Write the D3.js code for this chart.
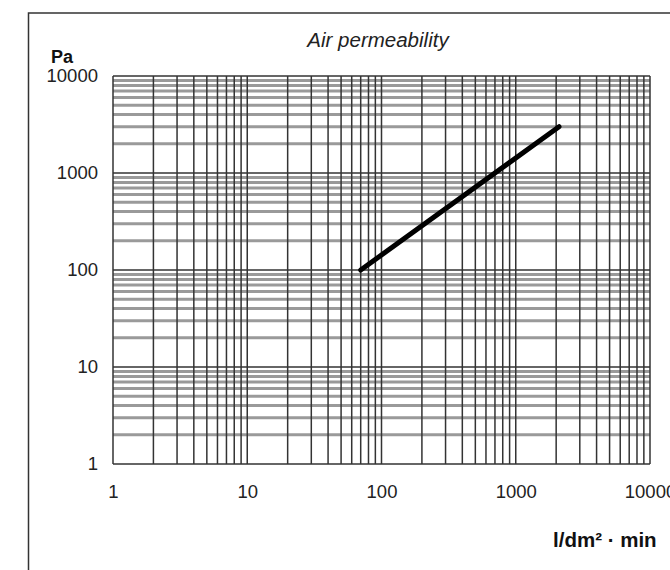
<!DOCTYPE html>
<html>
<head>
<meta charset="utf-8">
<script src="https://cdn.jsdelivr.net/npm/d3@7"></script>
<style>
  body { margin: 0; background: #fff; }
  svg { display: block; font-family: "Liberation Sans", Arial, sans-serif; }
</style>
</head>
<body>
<svg width="670" height="570"></svg>
<script>
// data
var flowValues = [70, 2100];        // l/dm² · min
var pressureValues = [100, 3000];   // Pa
var xDecades = [1, 10, 100, 1000, 10000];
var yDecades = [1, 10, 100, 1000, 10000];

var svg = d3.select("svg");

var plotLeft = 113, plotRight = 650, plotTop = 76, plotBottom = 464;

var x = d3.scaleLog().domain([1, 10000]).range([plotLeft, plotRight]);
var y = d3.scaleLog().domain([1, 10000]).range([plotBottom, plotTop]);

// outer frame
svg.append("rect")
  .attr("x", 28.5).attr("y", 13)
  .attr("width", 700).attr("height", 600)
  .attr("fill", "none")
  .attr("stroke", "#333")
  .attr("stroke-width", 1.5);

var allTicks = x.ticks(); // 1..9 per decade
var minorY = y.ticks().filter(d => yDecades.indexOf(d) < 0);

// horizontal grey minor lines
svg.append("g")
  .selectAll("line")
  .data(minorY)
  .enter()
  .append("line")
  .attr("x1", plotLeft).attr("x2", plotRight)
  .attr("y1", d => y(d)).attr("y2", d => y(d))
  .attr("stroke", "#9a9a9a")
  .attr("stroke-width", 3);

// horizontal decade lines
svg.append("g")
  .selectAll("line")
  .data(yDecades)
  .enter()
  .append("line")
  .attr("x1", plotLeft).attr("x2", plotRight)
  .attr("y1", d => y(d)).attr("y2", d => y(d))
  .attr("stroke", "#333")
  .attr("stroke-width", 1.5);

// vertical lines
svg.append("g")
  .selectAll("line")
  .data(allTicks)
  .enter()
  .append("line")
  .attr("y1", plotTop).attr("y2", plotBottom)
  .attr("x1", d => x(d)).attr("x2", d => x(d))
  .attr("stroke", "#333")
  .attr("stroke-width", 1.5);

// axes labels via d3 axes
var xAxis = svg.append("g")
  .attr("transform", "translate(0," + plotBottom + ")")
  .call(d3.axisBottom(x).tickValues(xDecades).tickSize(0).tickPadding(21).tickFormat(d3.format("d")));
xAxis.select(".domain").remove();

var yAxis = svg.append("g")
  .attr("transform", "translate(" + plotLeft + ",0)")
  .call(d3.axisLeft(y).tickValues(yDecades).tickSize(0).tickPadding(15).tickFormat(d3.format("d")));
yAxis.select(".domain").remove();

svg.selectAll(".tick text")
  .attr("font-size", 18.5)
  .attr("font-family", "'Liberation Sans', Arial, sans-serif")
  .attr("fill", "#222");

// data line
var line = d3.line()
  .x(d => x(d[0]))
  .y(d => y(d[1]));

svg.append("path")
  .datum(d3.zip(flowValues, pressureValues))
  .attr("d", line)
  .attr("fill", "none")
  .attr("stroke", "#000")
  .attr("stroke-width", 5)
  .attr("stroke-linecap", "round");

// title and units
svg.append("text")
  .attr("x", 378).attr("y", 47)
  .attr("text-anchor", "middle")
  .attr("font-size", 20.5)
  .attr("font-style", "italic")
  .attr("fill", "#222")
  .text("Air permeability");

svg.append("text")
  .attr("x", 51).attr("y", 63)
  .attr("font-size", 18)
  .attr("font-weight", "bold")
  .attr("fill", "#111")
  .text("Pa");

svg.append("text")
  .attr("x", 553).attr("y", 547)
  .attr("font-size", 20.5)
  .attr("font-weight", "bold")
  .attr("fill", "#111")
  .text("l/dm² · min");
</script>
</body>
</html>
